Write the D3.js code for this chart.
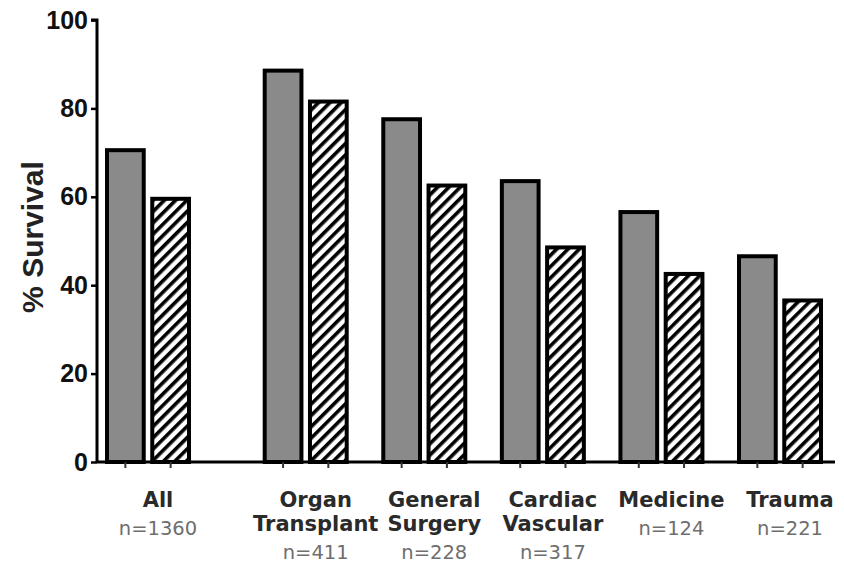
<!DOCTYPE html>
<html>
<head>
<meta charset="utf-8">
<script src="https://cdn.jsdelivr.net/npm/d3@7"></script>
<style>
body{margin:0;background:#fff;}
</style>
</head>
<body>
<svg id="chart"></svg>
<script>
var categories=[["All"],["Organ","Transplant"],["General","Surgery"],["Cardiac","Vascular"],["Medicine"],["Trauma"]];
var counts=["n=1360","n=411","n=228","n=317","n=124","n=221"];
var series=["first","second"];
var firstValues=[71,89,78,64,57,47];
var secondValues=[60,82,63,49,43,37];
var yTicks=[0,20,40,60,80,100];

window.onload=function(){
    var width=844;
    var height=565;
    var padding={top:20,right:9,bottom:103,left:97};

    var svg=d3.select('#chart')
        .attr('width',width)
        .attr('height',height);

    var defs=svg.append('defs');
    var pat=defs.append('pattern')
        .attr('id','hatch')
        .attr('patternUnits','userSpaceOnUse')
        .attr('width',8)
        .attr('height',8)
        .attr('patternTransform','rotate(45)');
    pat.append('rect').attr('width',8).attr('height',8).attr('fill','white');
    pat.append('rect').attr('x',0).attr('width',3.6).attr('height',8).attr('fill','black');

    // 第一组和后面几组之间有空隙
    function groupPos(i){ return i===0 ? 0 : i+0.33; }

    var xScale=d3.scaleLinear()
        .domain([0,5.33])
        .range([148,780]);

    var xSub=d3.scaleBand()
        .domain(series)
        .range([-43,43])
        .paddingInner(0.1);

    var yScale=d3.scaleLinear()
        .domain([0,100])
        .range([height-padding.bottom,padding.top]);

    var data=[];
    categories.forEach(function(c,i){
        data.push({i:i,s:'first',v:firstValues[i]});
        data.push({i:i,s:'second',v:secondValues[i]});
    });

    var sw=4;
    svg.append('g')
        .selectAll('rect')
        .data(data)
        .enter()
        .append('rect')
        .attr('x',function(d){ return xScale(groupPos(d.i))+xSub(d.s)+sw/2; })
        .attr('width',xSub.bandwidth()-sw)
        .attr('y',function(d){ return yScale(d.v)+sw/2; })
        .attr('height',function(d){ return yScale(0)-yScale(d.v)-sw/2; })
        .attr('fill',function(d){ return d.s==='first' ? '#8a8a8a' : 'url(#hatch)'; })
        .attr('stroke','black')
        .attr('stroke-width',sw);

    //y轴
    var yAxis=d3.axisLeft()
        .scale(yScale)
        .tickValues(yTicks)
        .tickSize(6)
        .tickPadding(3);

    var gy=svg.append('g')
        .attr('transform','translate('+padding.left+',0)')
        .call(yAxis);
    gy.select('.domain').attr('stroke-width',3).attr('d','M-6,'+yScale(100)+'H0V'+yScale(0));
    gy.selectAll('.tick line').attr('stroke-width',2.5);
    gy.selectAll('.tick text')
        .attr('font-family','Liberation Sans, Arial, sans-serif')
        .attr('font-weight','bold')
        .attr('font-size','25px')
        .attr('fill','#111');

    //x轴
    svg.append('line')
        .attr('x1',padding.left)
        .attr('x2',width-padding.right)
        .attr('y1',yScale(0))
        .attr('y2',yScale(0))
        .attr('stroke','black')
        .attr('stroke-width',3);

    svg.append('g')
        .selectAll('line')
        .data(data)
        .enter()
        .append('line')
        .attr('x1',function(d){ return xScale(groupPos(d.i))+xSub(d.s)+xSub.bandwidth()/2; })
        .attr('x2',function(d){ return xScale(groupPos(d.i))+xSub(d.s)+xSub.bandwidth()/2; })
        .attr('y1',yScale(0))
        .attr('y2',yScale(0)+6)
        .attr('stroke','#333')
        .attr('stroke-width',2);

    var labels=svg.append('g')
        .selectAll('g')
        .data(categories)
        .enter()
        .append('g')
        .attr('transform',function(d,i){ return 'translate('+(xScale(groupPos(i))+10)+',0)'; });

    labels.each(function(d,i){
        var g=d3.select(this);
        d.forEach(function(line,j){
            g.append('text')
                .attr('y',507+j*24)
                .attr('text-anchor','middle')
                .attr('font-family','DejaVu Sans, Verdana, sans-serif')
                .attr('font-weight','bold')
                .attr('font-size','21px')
                .attr('fill','#2a2a2a')
                .text(line);
        });
        g.append('text')
            .attr('y',d.length>1 ? 559 : 535)
            .attr('text-anchor','middle')
            .attr('font-family','DejaVu Sans, Verdana, sans-serif')
            .attr('font-size','19.5px')
            .attr('fill','#6e6e6e')
            .text(counts[i]);
    });

    svg.append('text')
        .attr('transform','translate(43,'+((yScale(0)+yScale(100))/2-4)+') rotate(-90)')
        .attr('text-anchor','middle')
        .attr('font-family','Liberation Sans, Arial, sans-serif')
        .attr('font-weight','bold')
        .attr('font-size','30px')
        .attr('fill','#222')
        .text('% Survival');
}
</script>
</body>
</html>
